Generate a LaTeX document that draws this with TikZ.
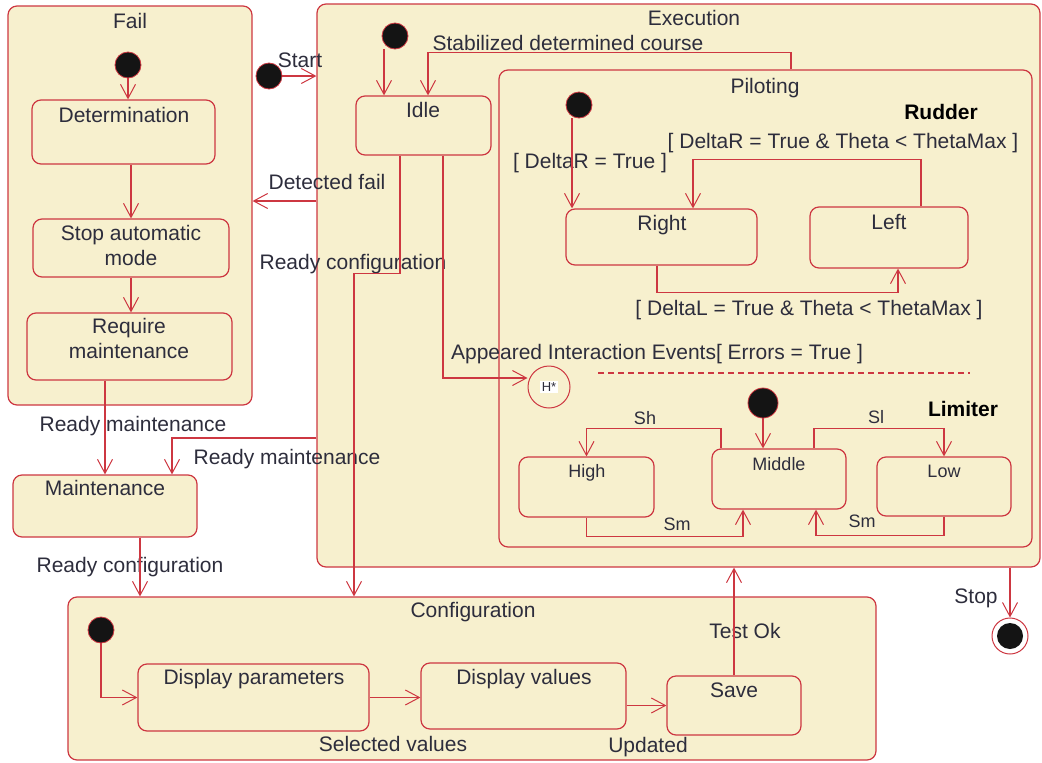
\documentclass[tikz,border=0pt]{standalone}
\usepackage{fontspec}
\setmainfont{Liberation Sans}
\usetikzlibrary{arrows.meta,fit}
\definecolor{umlred}{RGB}{205,55,65}
\definecolor{umlfill}{RGB}{247,240,206}
\definecolor{umltext}{RGB}{45,45,60}
\tikzset{
  statebox/.style={draw=umlred, fill=umlfill, line width=1.2pt, rounded corners=9pt, inner sep=0pt},
  initdot/.style={circle, fill=black!92, draw=umlred, line width=0.8pt, minimum size=26pt, inner sep=0pt},
  histstate/.style={circle, draw=umlred, fill=umlfill, line width=1pt, minimum size=42pt, inner sep=0pt},
  finalstate/.style={circle, draw=umlred, fill=white, line width=1pt, minimum size=36pt, inner sep=0pt,
    path picture={\fill[black!92] (path picture bounding box.center) circle (13pt);}},
  trans/.style={draw=umlred, line width=1.2pt, -{Straight Barb[length=14pt,width=15pt,line width=1pt]}},
  lbl/.style={text=umltext, font=\fontsize{21}{25}\selectfont, inner sep=0pt, anchor=base},
  smalllbl/.style={lbl, font=\fontsize{18}{21}\selectfont},
  boldlbl/.style={lbl, text=black, font=\fontsize{21}{25}\selectfont\bfseries}
}
\begin{document}
\begin{tikzpicture}[x=1pt,y=1pt]
\useasboundingbox (0,0) rectangle (1042,-763);
\node[statebox, fit={(8,-6) (252,-405)}] (fail) {};
\node[statebox, fit={(317,-4) (1040,-567)}] (exec) {};
\node[statebox, fit={(499,-70) (1032,-547)}] (pilot) {};
\node[statebox, fit={(68,-597) (876,-760)}] (config) {};
\node[statebox, fit={(32,-100) (215,-164)}] (determ) {};
\node[statebox, fit={(33,-219) (229,-277)}] (stopauto) {};
\node[statebox, fit={(27,-313) (232,-380)}] (reqmaint) {};
\node[statebox, fit={(13,-475) (197,-537)}] (maint) {};
\node[statebox, fit={(356,-96) (491,-155)}] (idle) {};
\node[statebox, fit={(566,-209) (757,-265)}] (rightst) {};
\node[statebox, fit={(810,-207) (968,-268)}] (leftst) {};
\node[statebox, fit={(519,-457) (654,-517)}] (high) {};
\node[statebox, fit={(712,-449) (846,-509)}] (middle) {};
\node[statebox, fit={(877,-457) (1011,-516)}] (low) {};
\node[statebox, fit={(138,-664) (369,-731)}] (dispparam) {};
\node[statebox, fit={(421,-663) (626,-729)}] (dispval) {};
\node[statebox, fit={(667,-676) (801,-735)}] (save) {};
\node[initdot] (failinit) at (128,-65) {};
\node[initdot] (startdot) at (269,-76) {};
\node[initdot] (execinit) at (395,-36) {};
\node[initdot] (rudderinit) at (579,-105) {};
\node[initdot, minimum size=30pt] (limitinit) at (763,-403) {};
\node[initdot] (configinit) at (101,-630) {};
\node[histstate] (hist) at (549,-387) {};
\node[fill=white, inner sep=1.5pt, text=umltext, font=\fontsize{13}{13}\selectfont] (histtxt) at (hist.center) {H*};
\node[finalstate] (final) at (1010,-636) {};
\draw[umlred, line width=1.2pt, dash pattern=on 6pt off 4pt] (598,-373) -- (970,-373);
\node[lbl] (failtxt) at (130,-28) {Fail};
\node[lbl] (exectxt) at (694,-25) {Execution};
\node[lbl] (pilottxt) at (765,-93) {Piloting};
\node[lbl] (configtxt) at (473,-617) {Configuration};
\node[lbl] (determtxt) at (124,-122) {Determination};
\node[lbl, anchor=north, align=center] (stopautotxt) at (131,-225) {Stop automatic\\mode};
\node[lbl, anchor=north, align=center] (reqmainttxt) at (129,-318) {Require\\maintenance};
\node[lbl] (mainttxt) at (105,-495) {Maintenance};
\node[lbl] (idletxt) at (423,-117) {Idle};
\node[lbl] (righttxt) at (662,-230) {Right};
\node[lbl] (lefttxt) at (889,-229) {Left};
\node[smalllbl] (hightxt) at (587,-477) {High};
\node[smalllbl] (middletxt) at (779,-470) {Middle};
\node[smalllbl] (lowtxt) at (944,-477) {Low};
\node[lbl] (dispparamtxt) at (254,-684) {Display parameters};
\node[lbl] (dispvaltxt) at (524,-684) {Display values};
\node[lbl] (savetxt) at (734,-697) {Save};
\node[lbl] (starttxt) at (300,-67) {Start};
\node[lbl] (detfailtxt) at (327,-189) {Detected fail};
\node[lbl] (stabtxt) at (568,-50) {Stabilized determined course};
\node[lbl] (readyconftxt) at (353,-269) {Ready configuration};
\node[lbl] (appeartxt) at (657,-359) {Appeared Interaction Events[ Errors = True ]};
\node[lbl] (deltartxt) at (590,-168) {[ DeltaR = True ]};
\node[lbl] (torighttxt) at (843,-148) {[ DeltaR = True \& Theta < ThetaMax ]};
\node[lbl] (tolefttxt) at (809,-315) {[ DeltaL = True \& Theta < ThetaMax ]};
\node[boldlbl] (ruddertxt) at (941,-119) {Rudder};
\node[boldlbl] (limitertxt) at (963,-416) {Limiter};
\node[smalllbl] (shtxt) at (645,-424) {Sh};
\node[smalllbl] (sltxt) at (876,-423) {Sl};
\node[smalllbl] (smhtxt) at (677,-530) {Sm};
\node[smalllbl] (smltxt) at (862,-527) {Sm};
\node[lbl] (readymainttxt) at (133,-431) {Ready maintenance};
\node[lbl] (readymaintbtxt) at (287,-464) {Ready maintenance};
\node[lbl] (readyconfbtxt) at (130,-572) {Ready configuration};
\node[lbl] (selvaltxt) at (393,-751) {Selected values};
\node[lbl] (updtxt) at (648,-752) {Updated};
\node[lbl] (testoktxt) at (745,-638) {Test Ok};
\node[lbl] (stoptxt) at (976,-603) {Stop};
\draw[trans] (failinit) -- (failinit |- determ.north);
\draw[trans] (stopauto.north |- determ.south) -- (stopauto.north);
\draw[trans] (stopauto.south) -- (stopauto.south |- reqmaint.north);
\draw[trans] (maint.north |- reqmaint.south) -- (maint.north);
\draw[trans] ([yshift=-152.5pt]exec.west) -| ([xshift=67pt]maint.north);
\draw[trans] ([xshift=35pt]maint.south) -- ([xshift=35pt]maint.south |- config.north);
\draw[trans] (startdot) -- (startdot -| exec.west);
\draw[trans] ([yshift=84.5pt]exec.west) -- ([yshift=84.5pt]exec.west -| fail.east);
\draw[trans] ([xshift=-11pt]execinit.south) -- ([xshift=-11pt]execinit.south |- idle.north);
\draw[trans] ([xshift=25.5pt]pilot.north) -- ++(0,17) -| ([xshift=4.5pt]idle.north);
\draw[trans] ([xshift=-23.5pt]idle.south) -- ++(0,-118) -| ([xshift=-118pt]config.north);
\draw[trans] ([xshift=19.5pt]idle.south) |- ([yshift=9pt]hist.west);
\draw[trans] ([xshift=-7pt]rudderinit.south) -- ([xshift=-7pt]rudderinit.south |- rightst.north);
\draw[trans] ([xshift=32pt]leftst.north) -- ++(0,47) -| ([xshift=31.5pt]rightst.north);
\draw[trans] ([xshift=-4.5pt]rightst.south) -- ++(0,-27) -| ([xshift=9pt]leftst.south);
\draw[trans] (limitinit) -- (limitinit |- middle.north);
\draw[trans] ([xshift=-58pt]middle.north) -- ++(0,20) -| (high.north);
\draw[trans] ([xshift=35pt]middle.north) -- ++(0,20) -| (low.north);
\draw[trans] (high.south) -- ++(0,-19) -| ([xshift=-36pt]middle.south);
\draw[trans] (low.south) -- ++(0,-19) -| ([xshift=37pt]middle.south);
\draw[trans] (configinit) |- (dispparam.west);
\draw[trans] (dispparam.east) -- (dispparam.east -| dispval.west);
\draw[trans] (dispval.east |- save.west) -- (save.west);
\draw[trans] (save.north) -- (save.north |- exec.south);
\draw[trans] (final |- exec.south) -- (final.north);
\end{tikzpicture}
\end{document}
